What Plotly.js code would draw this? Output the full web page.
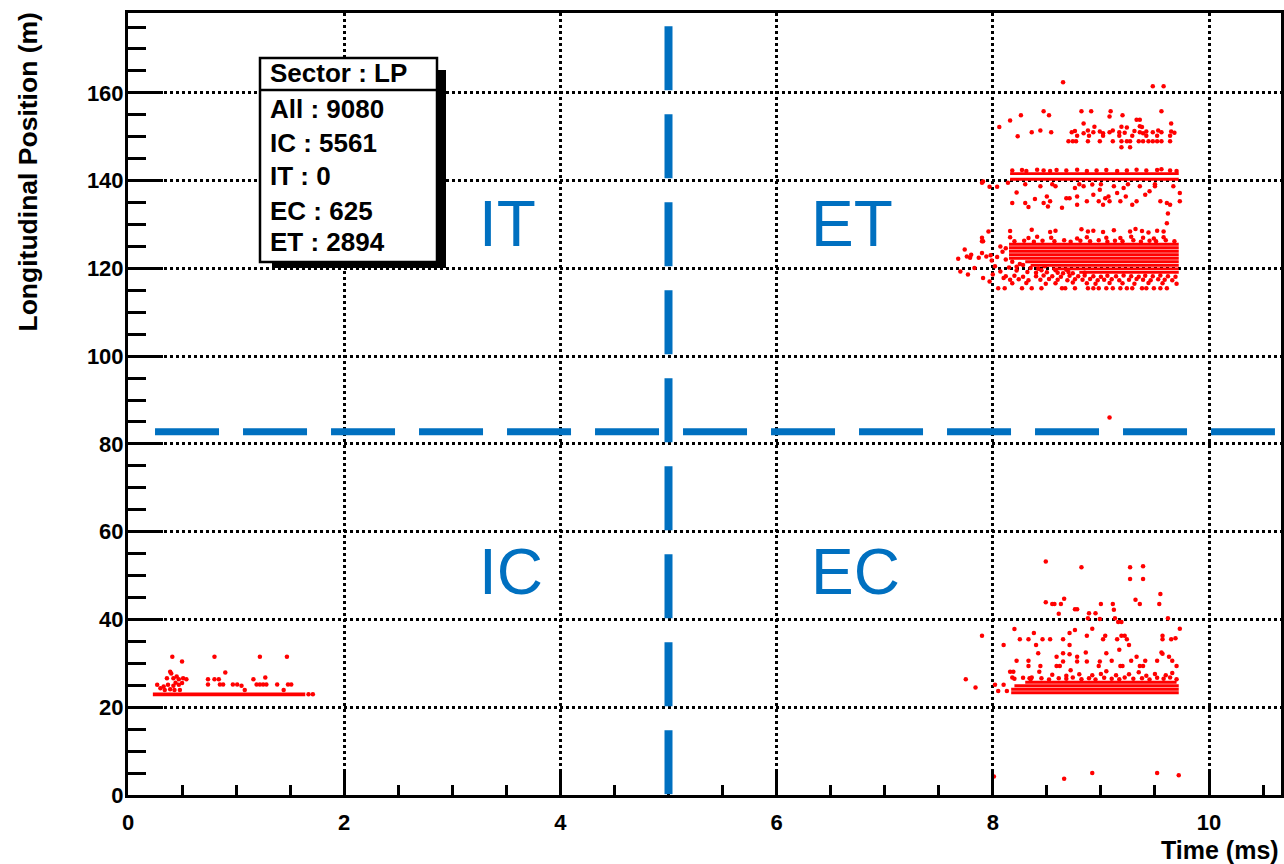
<!DOCTYPE html>
<html>
<head>
<meta charset="utf-8">
<script src="https://cdn.plot.ly/plotly-3.0.1.min.js"></script>
<style>html,body{margin:0;padding:0;background:#fff;}#chart{width:1284px;height:864px;}</style>
</head>
<body>
<div id="chart"></div>
<script>
// ---------------- DATA ----------------
// Stats box
const statsTitle = "Sector : LP";
const statsLabels = ["All", "IC", "IT", "EC", "ET"];
const statsValues = [9080, 5561, 0, 625, 2894];

// Region labels and their approximate positions (time ms, position m)
const regionNames = ["IT", "ET", "IC", "EC"];
const regionX = [3.51, 6.70, 3.54, 6.73];
const regionY = [130.2, 130.2, 50.9, 50.9];

// Sector boundaries (dashed lines)
const boundaryTime = 5.0;       // ms
const boundaryPos = 82.8;       // m

// Dense row of hits in sector IC: y, xStart, xEnd
const icBandY = [22.95], icBandX0 = [0.23], icBandX1 = [1.64];

// Dense rows of hits in sectors EC / ET: y, xStart, xEnd
const bandY  = [23.3, 24.1, 24.9, 25.7, 125.5, 124.7, 123.9, 123.1, 122.3, 121.5, 120.7, 119.9, 119.1, 141.6, 140.3];
const bandX0 = [8.17, 8.17, 8.20, 8.30, 8.15,  8.15,  8.15,  8.15,  8.15,  8.30,  8.35,  8.55,  8.80,  8.16,  8.16];
const bandX1 = [9.72, 9.72, 9.72, 9.70, 9.72,  9.72,  9.72,  9.72,  9.72,  9.72,  9.72,  9.72,  9.72,  9.72,  9.72];

// Individual hits, sector IC
const icPts = [
 [0.41,31.5],[0.50,30.4],[0.80,31.5],[1.22,31.5],[1.47,31.5],
 [0.39,28.1],[0.40,27.7],[0.90,27.9],[0.45,27.0],
 [0.36,26.6],[0.42,26.6],[0.47,26.4],[0.51,26.6],[0.54,26.4],
 [0.74,26.4],[0.80,26.4],[0.84,26.4],[1.16,26.4],[1.27,26.8],
 [0.27,25.1],[0.33,24.7],[0.37,25.1],[0.42,24.9],[0.47,25.1],[0.50,25.5],[0.44,25.6],
 [0.43,23.9],[0.48,23.9],[0.34,23.9],[0.39,24.1],[0.30,24.3],
 [0.74,25.2],[0.85,25.2],[0.88,25.2],[0.97,25.2],[1.01,25.2],[1.05,24.9],[1.08,23.9],
 [1.19,25.2],[1.22,25.2],[1.25,25.2],[1.28,25.2],[1.38,25.2],[1.44,23.9],[1.48,25.2],[1.51,25.2],
 [1.67,22.95],[1.71,22.95]
];

// Individual hits, sector EC
const ecPts = [
 [8.49,53.2],[8.82,51.9],[9.27,51.9],[9.39,52.1],[9.27,49.2],[9.39,49.2],
 [8.49,43.9],[8.55,43.5],[8.57,43.5],[8.63,43.5],[8.66,44.7],[8.76,42.3],[8.78,42.3],
 [9.00,43.5],[9.11,43.5],[9.12,42.2],[8.61,41.3],[8.89,41.4],[8.95,41.4],[8.88,40.3],
 [8.99,40.1],[9.13,40.3],[9.16,39.4],[9.19,39.4],[9.32,44.5],[9.36,43.5],[9.55,45.8],
 [9.54,43.5],[9.62,40.3],[9.73,37.9],[7.90,36.3],[8.20,37.8],[8.25,35.5],[8.33,35.5],
 [8.38,36.9],[8.46,35.5],[8.53,35.5],[8.10,34.2],[8.40,34.2],[8.76,37.6],[8.71,36.9],
 [8.65,35.5],[8.71,34.2],[8.92,37.9],[8.87,36.3],[9.02,35.5],[9.04,36.3],[9.15,35.5],
 [9.19,36.3],[9.22,36.3],[9.24,35.5],[9.26,34.2],[9.17,33.1],[9.57,36.3],[9.57,35.5],
 [9.65,35.5],[9.69,35.7],[8.42,32.3],[8.22,30.6],[8.33,30.6],[8.33,29.4],[8.59,31.5],
 [8.65,32.3],[8.71,32.1],[8.78,31.5],[8.65,30.4],[8.59,29.4],[8.62,29.4],[8.78,30.4],
 [8.86,32.5],[8.87,30.4],[8.98,29.4],[8.99,30.4],[9.05,32.3],[9.10,30.6],[9.18,29.4],
 [9.20,29.4],[9.28,30.6],[9.33,31.5],[9.36,29.4],[9.39,29.4],[9.41,30.6],[9.52,30.6],
 [9.56,32.5],[9.57,32.2],[9.63,31.5],[9.66,30.6],[9.70,29.4],[8.44,29.4],
 [8.16,28.1],[8.19,28.1],[8.18,26.8],[8.43,28.1],[8.36,26.8],[8.34,26.6],
 [7.75,26.4],[7.84,24.5],[8.02,25.1],[8.10,25.1],[8.05,23.7],[8.13,23.7],
 [8.20,26.5],[8.28,26.7],[8.35,26.4],[8.45,26.6],[8.52,26.3],[8.61,26.6],[8.68,26.5],
 [8.74,26.8],[8.82,26.4],[8.89,26.6],[8.95,26.3],[9.03,26.7],[9.10,26.5],[9.17,26.4],
 [9.22,26.8],[9.30,26.5],[9.38,26.6],[9.45,26.3],[9.52,26.7],[9.58,26.5],[9.64,26.8],[9.70,26.4],
 [8.55,27.4],[8.68,27.2],[8.80,27.5],[8.92,27.3],[9.00,27.6],[9.14,27.3],[9.26,27.5],
 [9.42,27.2],[9.50,27.6],[9.60,27.3],[9.66,27.8],[9.35,28.0],[9.05,28.2],[8.72,28.4],
 [8.01,4.2],[8.66,3.7],[8.92,5.0],[9.52,5.0],[9.72,4.5]
];

// Individual hits, sector ET
const etPts = [
 [8.65,162.4],[9.48,161.5],[9.58,161.5],[8.47,155.8],[8.52,154.9],[8.26,154.9],[8.16,153.7],
 [8.06,152.2],[8.23,150.1],[8.36,151.0],[8.44,151.4],[8.54,151.0],[8.82,155.8],[8.91,155.8],
 [9.09,155.8],[9.20,154.9],[9.56,155.8],[8.84,153.0],[9.08,154.6],[9.33,153.9],[9.36,153.9],[9.65,153.0],
 [8.70,149.0],[8.74,149.0],[8.77,149.0],[8.88,149.0],[8.99,149.0],[9.11,149.0],[9.19,149.0],
 [9.24,149.0],[9.27,149.0],[9.35,149.0],[9.39,149.0],[9.44,149.0],[9.48,149.0],[9.52,149.0],
 [9.56,149.0],[9.64,149.0],
 [8.73,151.0],[8.76,151.3],[8.84,150.8],[8.88,151.4],[8.93,151.0],[8.99,151.2],[9.02,150.8],
 [9.08,151.0],[9.11,151.4],[9.17,151.0],[9.22,150.9],[9.31,151.3],[9.36,151.0],[9.39,150.8],
 [9.42,151.2],[9.48,151.0],[9.53,151.4],[9.56,151.0],[9.65,151.2],[9.68,150.9],
 [8.94,152.3],[9.19,152.3],[9.24,152.1],[9.36,152.4],[9.38,152.2],[9.19,147.6],[9.27,147.6],
 [8.78,150.2],[8.89,150.2],[9.02,150.2],[9.17,150.2],[9.29,150.2],[9.42,150.2],[9.52,150.2],[9.64,150.2],
 [8.18,142.3],[8.27,142.4],[8.31,142.2],[8.41,142.5],[8.47,142.3],[8.53,142.2],[8.59,142.4],
 [8.68,142.3],[8.78,142.5],[8.87,142.2],[8.96,142.3],[9.05,142.4],[9.15,142.2],[9.24,142.3],
 [9.33,142.5],[9.42,142.3],[9.52,142.4],[9.56,142.6],[9.64,142.3],[9.70,142.2],
 [8.04,138.6],[8.14,139.5],[8.22,137.3],[8.18,134.9],[8.30,134.9],[8.33,134.0],[8.39,135.8],
 [8.44,138.7],[8.47,134.9],[8.50,136.4],[8.53,135.3],[8.51,134.1],[8.58,138.7],[8.64,133.8],
 [8.68,136.0],[8.71,136.0],[8.76,138.3],[8.78,136.4],[8.78,134.5],[8.84,138.7],[8.87,135.3],
 [8.92,139.1],[8.93,136.8],[8.98,135.3],[8.99,137.9],[9.02,134.5],[9.04,136.0],[9.07,136.4],
 [9.08,135.3],[9.12,138.7],[9.15,137.2],[9.18,135.3],[9.21,138.3],[9.23,136.4],[9.29,134.5],
 [9.33,135.3],[9.36,138.7],[9.41,136.8],[9.45,137.6],[9.50,138.7],[9.55,135.3],[9.61,134.9],
 [9.64,134.5],[9.67,138.7],[9.73,135.3],[9.73,137.2],[9.62,132.5],[9.61,130.3],[7.97,138.6],
 [7.90,139.5],[7.91,139.8],
 [8.30,139.2],[8.55,139.2],[8.80,139.2],[9.00,139.2],[9.25,139.2],[9.50,139.2],
 [8.16,128.5],[8.36,128.8],[8.53,128.3],[8.58,128.6],[8.82,128.9],[8.88,128.4],[8.93,128.6],
 [9.02,128.3],[9.12,128.7],[9.27,128.4],[9.32,129.0],[9.38,128.5],[9.44,128.2],[9.52,128.6],[9.58,128.4],
 [7.90,127.0],[8.16,127.1],[8.33,126.9],[8.41,127.2],[8.54,127.0],[8.78,126.8],[8.87,127.1],
 [9.05,127.0],[9.18,126.9],[9.28,127.2],[9.39,127.0],[9.49,126.8],[9.58,127.1],
 [8.20,126.2],[8.29,126.3],[8.38,126.1],[8.46,126.3],[8.57,126.2],[8.66,126.4],[8.72,126.1],
 [8.81,126.3],[8.90,126.2],[8.98,126.4],[9.06,126.1],[9.13,126.3],[9.20,126.2],[9.30,126.4],
 [9.37,126.1],[9.45,126.3],[9.51,126.2],[9.60,126.4],[9.68,126.2],
 [7.68,122.2],[7.74,124.3],[7.70,119.3],[7.77,118.6],[7.80,123.1],[7.87,122.4],[7.90,123.5],
 [7.91,126.2],[7.94,122.7],[7.99,121.8],[8.00,118.6],[8.02,120.5],[8.07,125.0],[8.07,119.3],
 [8.10,117.8],[7.91,117.8],[7.97,117.0],[8.05,115.5],[8.11,115.5],[7.83,120.1],[7.76,122.7],
 [7.79,122.4],[7.96,128.4],[7.90,126.2],[7.98,123.0],[8.04,122.6],[8.09,123.8],[8.12,124.6],
 [8.27,115.5],[8.36,115.5],[8.45,115.5],[8.64,115.5],[8.67,115.5],[8.76,115.5],[8.88,115.5],
 [8.93,115.5],[8.98,115.5],[9.05,115.5],[9.11,115.5],[9.18,115.5],[9.24,115.5],[9.29,115.5],
 [9.38,115.5],[9.42,115.5],[9.49,115.5],[9.55,115.5],[9.61,115.5],
 [8.18,116.6],[8.31,116.7],[8.49,116.5],[8.58,116.6],[8.74,116.8],[8.87,116.6],[8.95,116.5],
 [9.08,116.7],[9.20,116.6],[9.31,116.5],[9.44,116.7],[9.57,116.6],[9.70,116.5],
 [8.16,117.4],[8.24,117.5],[8.33,117.3],[8.44,117.4],[8.52,117.6],[8.60,117.4],[8.69,117.3],
 [8.76,117.5],[8.83,117.4],[8.90,117.6],[8.97,117.3],[9.03,117.4],[9.10,117.5],[9.17,117.3],
 [9.26,117.4],[9.33,117.6],[9.39,117.4],[9.46,117.3],[9.53,117.5],[9.59,117.4],[9.66,117.3],
 [8.12,118.2],[8.20,118.3],[8.28,118.1],[8.40,118.2],[8.47,118.4],[8.55,118.2],[8.63,118.1],
 [8.71,118.3],[8.79,118.2],[8.85,118.4],[8.93,118.2],[9.00,118.1],[9.06,118.3],[9.14,118.2],
 [9.21,118.4],[9.28,118.2],[9.35,118.1],[9.41,118.3],[9.48,118.2],[9.55,118.4],[9.62,118.2],[9.69,118.1],
 [8.15,120.2],[8.22,119.5],[8.28,120.8],[8.32,119.2],[8.40,119.0],[8.45,119.6],[8.18,121.5],
 [8.25,121.0],[8.12,122.0],[8.50,119.1],[8.60,119.0],[8.70,119.2],[8.65,118.9],[8.85,119.0],
 [8.22,120.4],[8.35,120.1],[8.42,119.9],[8.48,120.5],[8.58,119.6],[8.68,119.7],[8.74,118.9],
 [9.08,86.0]
];

// ---------------- CHART ----------------
const red = "#ff0000";
const blue = "#0070c0";
const allPts = icPts.concat(ecPts, etPts);

function segs(ys, x0s, x1s) {
  const xs = [], yy = [];
  for (let i = 0; i < ys.length; i++) {
    xs.push(x0s[i], x1s[i], null);
    yy.push(ys[i], ys[i], null);
  }
  return {x: xs, y: yy};
}
const icSeg = segs(icBandY, icBandX0, icBandX1);
const bandSeg = segs(bandY, bandX0, bandX1);

const traces = [
  {type: "scatter", mode: "lines", x: icSeg.x, y: icSeg.y,
   line: {color: red, width: 3.8}, hoverinfo: "skip", showlegend: false},
  {type: "scatter", mode: "lines", x: bandSeg.x, y: bandSeg.y,
   line: {color: red, width: 2.9}, hoverinfo: "skip", showlegend: false},
  {type: "scatter", mode: "markers", x: allPts.map(p => p[0]), y: allPts.map(p => p[1]),
   marker: {color: red, size: 4.5, line: {width: 0}}, showlegend: false}
];

// pixel helpers for decorations (plot area: left 128, top 13, width 1153, height 782)
const L = 128, T = 13, W = 1153, H = 782;
const px = v => (v - L) / W;
const py = v => (T + H - v) / H;

const font = "Liberation Sans, Arial, Helvetica, sans-serif";
const annotations = [];

// Axis titles (ROOT style: y at top end, x at right end)
annotations.push({xref: "paper", yref: "paper", x: px(27), y: py(11), xanchor: "center", yanchor: "top",
  text: "Longitudinal Position (m)", textangle: -90, showarrow: false,
  font: {family: font, size: 26.5, color: "#000", weight: "bold"}});
annotations.push({xref: "paper", yref: "paper", x: px(1281), y: py(850), xanchor: "right", yanchor: "middle",
  text: "Time (ms)", showarrow: false, font: {family: font, size: 25, color: "#000", weight: "bold"}});

// Region labels
for (let i = 0; i < regionNames.length; i++) {
  annotations.push({xref: "x", yref: "y", x: regionX[i], y: regionY[i], xanchor: "center", yanchor: "middle",
    text: regionNames[i], showarrow: false, font: {family: font, size: 64, color: blue}});
}

// Stats box text
const statsLineY = [73.5, 108.5, 143, 175.5, 211, 242.5];
const statsLines = [statsTitle].concat(statsLabels.map((l, i) => l + " : " + statsValues[i]));
statsLines.forEach((t, i) => {
  annotations.push({xref: "paper", yref: "paper", x: px(268), y: py(statsLineY[i]), xanchor: "left", yanchor: "middle",
    text: t, showarrow: false, font: {family: font, size: 26, color: "#000", weight: "bold"}});
});

const shapes = [
  // dashed sector boundaries
  {type: "line", xref: "x", yref: "y", x0: 0.25, x1: 10.61, y0: boundaryPos, y1: boundaryPos,
   line: {color: blue, width: 7, dash: "64px,24px"}},
  {type: "line", xref: "x", yref: "y", x0: boundaryTime, x1: boundaryTime, y0: 175.2, y1: 0,
   line: {color: blue, width: 8, dash: "64px,24px"}},
  // stats box shadow, box, separator
  {type: "rect", xref: "paper", yref: "paper", x0: px(272), x1: px(446), y0: py(268), y1: py(70),
   fillcolor: "#000", line: {width: 0}},
  {type: "rect", xref: "paper", yref: "paper", x0: px(260), x1: px(437), y0: py(262), y1: py(58),
   fillcolor: "#fff", line: {color: "#000", width: 2.5}},
  {type: "line", xref: "paper", yref: "paper", x0: px(260), x1: px(437), y0: py(90), y1: py(90),
   line: {color: "#000", width: 2.5}}
];

const axisCommon = {
  showline: true, linecolor: "#000", linewidth: 3, mirror: true,
  ticks: "inside", tickcolor: "#000", tickwidth: 3,
  showgrid: true, gridcolor: "#000", gridwidth: 3, griddash: "3px,3px",
  zeroline: false, layer: "above traces",
  tickfont: {family: font, size: 22, color: "#000", weight: "bold"},
  fixedrange: true
};

const layout = {
  width: 1284, height: 864, autosize: false,
  margin: {l: L, r: 1284 - L - W, t: T, b: 864 - T - H, pad: 0},
  paper_bgcolor: "#fff", plot_bgcolor: "#fff",
  showlegend: false,
  xaxis: Object.assign({}, axisCommon, {
    range: [0, 10.666], tick0: 0, dtick: 2, ticklen: 25, ticklabelstandoff: 6,
    minor: {dtick: 0.5, ticks: "inside", ticklen: 10, tickwidth: 3, tickcolor: "#000", showgrid: false}
  }),
  yaxis: Object.assign({}, axisCommon, {
    range: [0, 178.2], tick0: 0, dtick: 20, ticklen: 35, ticklabelstandoff: -3,
    minor: {dtick: 5, ticks: "inside", ticklen: 18, tickwidth: 3, tickcolor: "#000", showgrid: false}
  }),
  shapes: shapes,
  annotations: annotations
};

Plotly.newPlot("chart", traces, layout, {staticPlot: true, displayModeBar: false});
</script>
</body>
</html>
